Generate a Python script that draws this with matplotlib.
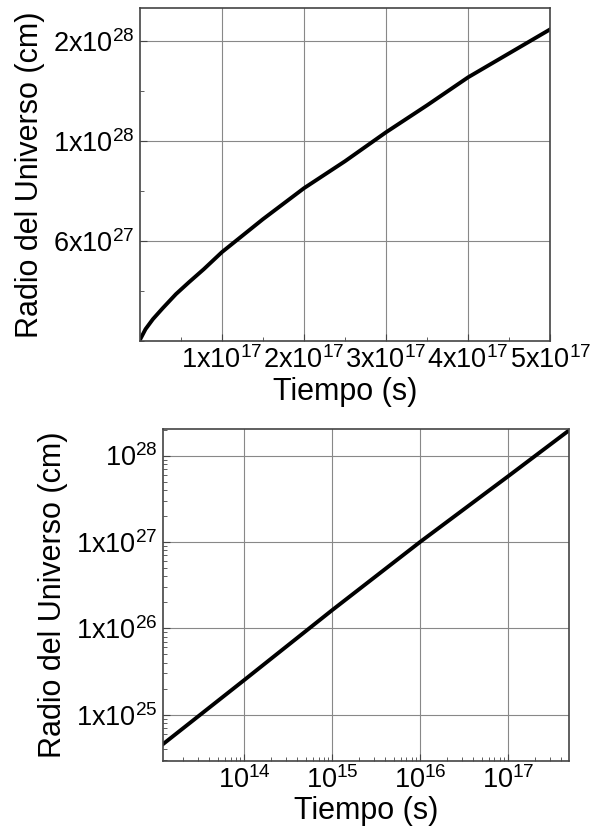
import matplotlib.pyplot as plt
from matplotlib.ticker import FixedLocator, FixedFormatter, MultipleLocator, LogLocator, NullFormatter

plt.rcParams['font.family'] = ['Liberation Sans', 'DejaVu Sans']
plt.rcParams['mathtext.fontset'] = 'custom'
plt.rcParams['mathtext.rm'] = 'Liberation Sans'
plt.rcParams['mathtext.default'] = 'regular'

# Panel 1: linear axes (time in s, radius in cm)
t_lin = [0.0, 0.07e17, 0.16e17, 0.28e17, 0.44e17, 0.6e17, 0.78e17, 1.0e17, 1.5e17,
         2.0e17, 2.5e17, 3.0e17, 3.5e17, 4.0e17, 4.5e17, 5.0e17]
r_lin = [0.005e28, 0.06e28, 0.11e28, 0.165e28, 0.235e28, 0.295e28, 0.36e28, 0.445e28, 0.61e28,
         0.765e28, 0.90e28, 1.045e28, 1.18e28, 1.32e28, 1.44e28, 1.56e28]
x_ticks_lin = [1e17, 2e17, 3e17, 4e17, 5e17]
x_labels_lin = ['1x10$^{17}$', '2x10$^{17}$', '3x10$^{17}$', '4x10$^{17}$', '5x10$^{17}$']
y_ticks_lin = [0.5e28, 1.0e28, 1.5e28]
y_labels_lin = ['6x10$^{27}$', '1x10$^{28}$', '2x10$^{28}$']

# Panel 2: log-log axes
t_log = [1.2e13, 1e14, 1e15, 1e16, 1e17, 4.9e17]
r_log = [10**24.66, 10**25.40, 10**26.21, 10**27.0, 10**27.76, 10**28.29]
x_ticks_log = [1e14, 1e15, 1e16, 1e17]
x_labels_log = ['10$^{14}$', '10$^{15}$', '10$^{16}$', '10$^{17}$']
y_ticks_log = [1e25, 1e26, 1e27, 1e28]
y_labels_log = ['1x10$^{25}$', '1x10$^{26}$', '1x10$^{27}$', '10$^{28}$']

fig = plt.figure(figsize=(6, 8.34), dpi=100)
ax1 = fig.add_axes([0.233, 0.591, 0.684, 0.399])
ax2 = fig.add_axes([0.272, 0.0875, 0.676, 0.3985])

spine_col = '#444444'
grid_col = '#888888'

for ax in (ax1, ax2):
    for s in ax.spines.values():
        s.set_color(spine_col)
        s.set_linewidth(1.2)
    ax.grid(True, which='major', color=grid_col, lw=0.8)
    ax.set_axisbelow(True)
    ax.tick_params(which='both', direction='in', color=spine_col, labelsize=19.5, pad=4)
    ax.tick_params(which='major', length=5)
    ax.tick_params(which='minor', length=3)

# top plot
ax1.plot(t_lin, r_lin, color='black', lw=2.8)
ax1.set_xlim(0, 5e17)
ax1.set_ylim(0, 1.665e28)
ax1.xaxis.set_major_locator(FixedLocator(x_ticks_lin))
ax1.xaxis.set_major_formatter(FixedFormatter(x_labels_lin))
ax1.xaxis.set_minor_locator(MultipleLocator(0.5e17))
ax1.yaxis.set_major_locator(FixedLocator(y_ticks_lin))
ax1.yaxis.set_major_formatter(FixedFormatter(y_labels_lin))
ax1.yaxis.set_minor_locator(MultipleLocator(0.25e28))
ax1.set_xlabel('Tiempo (s)', fontsize=22, labelpad=2)
ax1.set_ylabel('Radio del Universo (cm)', fontsize=22, labelpad=6)

# bottom plot
ax2.plot(t_log, r_log, color='black', lw=2.8)
ax2.set_xscale('log')
ax2.set_yscale('log')
ax2.set_xlim(1.2e13, 4.9e17)
ax2.set_ylim(2.9e24, 2.05e28)
ax2.xaxis.set_major_locator(FixedLocator(x_ticks_log))
ax2.xaxis.set_major_formatter(FixedFormatter(x_labels_log))
ax2.xaxis.set_minor_locator(LogLocator(base=10, subs=range(2, 10), numticks=20))
ax2.xaxis.set_minor_formatter(NullFormatter())
ax2.yaxis.set_major_locator(FixedLocator(y_ticks_log))
ax2.yaxis.set_major_formatter(FixedFormatter(y_labels_log))
ax2.yaxis.set_minor_locator(LogLocator(base=10, subs=range(2, 10), numticks=20))
ax2.yaxis.set_minor_formatter(NullFormatter())
ax2.set_xlabel('Tiempo (s)', fontsize=22, labelpad=1)
ax2.set_ylabel('Radio del Universo (cm)', fontsize=22, labelpad=6)

fig.savefig('out.png', dpi=100)
